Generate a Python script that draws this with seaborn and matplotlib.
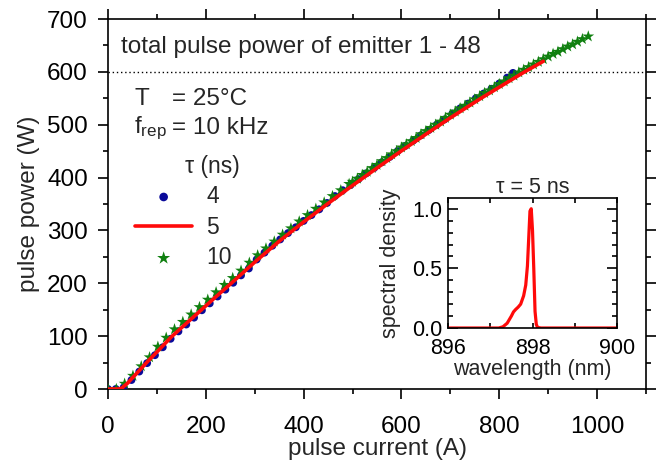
import numpy as np
import pandas as pd
import matplotlib
matplotlib.use("Agg")
import matplotlib.pyplot as plt
import seaborn as sns
from matplotlib.ticker import MultipleLocator, FormatStrFormatter

# ---------------- data ----------------
red_current = [0, 10, 20, 25, 30, 40, 50, 60, 80, 100, 130, 160, 190, 220, 252, 300,
               352, 400, 450, 500, 556, 600, 650, 700, 761, 800, 850, 890]
red_power = [0, 0, 0, 0.5, 3, 11, 21, 31, 51, 70, 99, 124, 149, 174, 200, 240,
             281, 316, 351, 385, 422, 450.5, 482, 513, 549, 571, 599, 620]

blue_current = [0, 16, 32, 48, 64, 80, 96, 112, 128, 144, 160, 176, 192, 208, 224, 240,
                256, 272, 288, 304, 320, 336, 352, 368, 384, 400, 416, 432, 448, 464,
                480, 496, 512, 528, 544, 560, 576, 592, 608, 624, 640, 656, 672, 688,
                704, 720, 736, 752, 768, 784, 800, 816, 828]
blue_power = [0, 0, 3, 17, 33, 49, 64, 79, 95, 109, 122, 135, 149, 162, 175, 188,
              201, 215, 228, 245, 258, 271, 283, 295, 306, 318, 329, 340, 352, 365,
              376, 386, 397, 408, 418, 429, 439, 450, 460, 470, 480, 490, 500, 510,
              521, 531, 540, 550, 559, 568, 578, 589, 598]

green_current = [0, 17, 34, 51, 68, 85, 102, 119, 136, 153, 170, 187, 204, 221, 238, 255,
                 272, 289, 306, 323, 340, 357, 374, 391, 408, 425, 442, 459, 476, 493,
                 500, 510, 520, 530, 540, 550, 560, 570, 580, 590, 600, 610, 620, 630,
                 640, 650, 660, 670, 680, 690, 700, 710, 720, 730, 740, 750, 760, 770,
                 780, 790, 800, 810, 820, 830, 840, 850, 860, 870, 880, 890, 900, 910,
                 920, 930, 940, 950, 960, 970, 982]
green_power = [0, 0, 10, 25, 43, 60, 80, 97, 113, 127, 141, 155, 169, 183, 197, 210,
               224, 239, 253, 266, 279, 292, 304, 317, 329, 341, 353, 365, 376, 388,
               392, 398, 405, 411, 418, 424, 431, 437, 444, 450, 457, 463, 469, 475,
               482, 488, 494, 500, 506, 513, 519, 525, 531, 536, 542, 548, 554, 560,
               565, 571, 577, 582, 588, 593, 599, 604, 609, 614, 619, 624, 629, 634,
               638, 643, 648, 652, 657, 662, 667]

spec_wl = [896.0, 896.5, 897.0, 897.2, 897.3, 897.4, 897.5, 897.55, 897.6, 897.66, 897.72,
           897.79, 897.84, 897.88, 897.91, 897.94, 897.97, 898.0, 898.03, 898.06, 898.09,
           898.12, 898.2, 898.5, 899.0, 899.5, 900.0]
spec_sd = [0, 0, 0, 0, 0.01, 0.04, 0.1, 0.135, 0.155, 0.175, 0.2,
           0.27, 0.36, 0.52, 0.75, 0.98, 1.0, 0.82, 0.5, 0.14, 0.03,
           0.005, 0, 0, 0, 0, 0]

series_labels = ["4", "5", "10"]

# ---------------- style ----------------
sns.set_theme(style="ticks")
plt.rcParams["font.family"] = ["Liberation Sans", "DejaVu Sans"]
plt.rcParams["mathtext.fontset"] = "custom"
plt.rcParams["mathtext.rm"] = "Liberation Sans"
plt.rcParams["mathtext.it"] = "Liberation Sans"
plt.rcParams["axes.linewidth"] = 1.2

FS = 17.5
FSI = 15.5

fig = plt.figure(figsize=(6.57, 4.62), dpi=100)
ax = fig.add_axes([108 / 657, 73 / 462, 538 / 657, 370 / 462])

blue_df = pd.DataFrame({"I": blue_current, "P": blue_power})
green_df = pd.DataFrame({"I": green_current, "P": green_power})
red_df = pd.DataFrame({"I": red_current, "P": red_power})

sns.scatterplot(data=blue_df, x="I", y="P", ax=ax, marker="o", s=32, color="#0a0a9a",
                edgecolor="none", label=series_labels[0], zorder=3)
sns.scatterplot(data=green_df, x="I", y="P", ax=ax, marker="*", s=80, color="#108010",
                edgecolor="none", label=series_labels[2], zorder=4)
sns.lineplot(data=red_df, x="I", y="P", ax=ax, color="#ff0a0a", lw=2.6,
             label=series_labels[1], zorder=5)

ax.axhline(600, color="black", lw=1.0, ls=(0, (1, 2)), zorder=2)

ax.set_xlim(0, 1100)
ax.set_ylim(0, 700)
ax.xaxis.set_major_locator(MultipleLocator(200))
ax.xaxis.set_minor_locator(MultipleLocator(100))
ax.yaxis.set_major_locator(MultipleLocator(100))
ax.yaxis.set_minor_locator(MultipleLocator(50))
ax.tick_params(which="both", direction="out", top=True, right=True, width=1.2,
               labelsize=FS, color="black", labelcolor="black")
ax.tick_params(which="major", length=7.5)
ax.tick_params(which="minor", length=3.8)
ax.tick_params(axis="x", which="major", pad=12)
ax.tick_params(axis="y", which="major", pad=7)
ax.set_xlabel("pulse current (A)", fontsize=FS, labelpad=0)
ax.set_ylabel("pulse power (W)", fontsize=FS, labelpad=5)
for s in ax.spines.values():
    s.set_color("black")
    s.set_visible(True)

ax.text(27, 647, "total pulse power of emitter 1 - 48", fontsize=FS, va="center", ha="left")
ax.text(54, 548, "T", fontsize=FS, va="center", ha="left")
ax.text(130, 548, "= 25°C", fontsize=FS, va="center", ha="left")
ax.text(54, 494, r"f$_\mathrm{rep}$", fontsize=FS, va="center", ha="left")
ax.text(130, 494, "= 10 kHz", fontsize=FS, va="center", ha="left")

h, l = ax.get_legend_handles_labels()
order = [l.index(x) for x in series_labels]
leg = ax.legend([h[i] for i in order], [l[i] for i in order],
                loc="upper left", bbox_to_anchor=((135 - 108) / 538, (389 - 185) / 370),
                frameon=False, fontsize=16.5, borderpad=0,
                borderaxespad=0, handlelength=2.5, handletextpad=0.6, labelspacing=0.33,
                markerscale=1.1)
ax.text(214, 420, "τ (ns)", fontsize=16.5, ha="center", va="center")

# ---------------- inset ----------------
ins = fig.add_axes([448 / 657, 134 / 462, 169 / 657, 130 / 462])
spec_df = pd.DataFrame({"wl": spec_wl, "sd": spec_sd})
sns.lineplot(data=spec_df, x="wl", y="sd", ax=ins, color="#ff0a0a", lw=2.3)
ins.set_xlim(896, 900)
ins.set_ylim(0, 1.09)
ins.xaxis.set_major_locator(MultipleLocator(2))
ins.xaxis.set_minor_locator(MultipleLocator(1))
ins.yaxis.set_major_locator(MultipleLocator(0.5))
ins.yaxis.set_minor_locator(MultipleLocator(0.1))
ins.tick_params(which="both", direction="in", top=True, right=True, width=1.2,
                labelsize=FSI, color="black", labelcolor="black")
ins.tick_params(axis="y", which="major", length=7, pad=4)
ins.tick_params(axis="y", which="minor", length=3.5)
ins.tick_params(axis="x", which="both", length=3.5, pad=7)
ins.yaxis.set_major_formatter(FormatStrFormatter("%.1f"))
ins.set_xlabel("wavelength (nm)", fontsize=FSI, labelpad=0)
ins.set_ylabel("spectral density", fontsize=FSI, labelpad=8)
ins.set_title("τ = 5 ns", fontsize=FSI, pad=3)
for s in ins.spines.values():
    s.set_color("black")
    s.set_linewidth(1.2)

fig.savefig("out.png", dpi=100)
